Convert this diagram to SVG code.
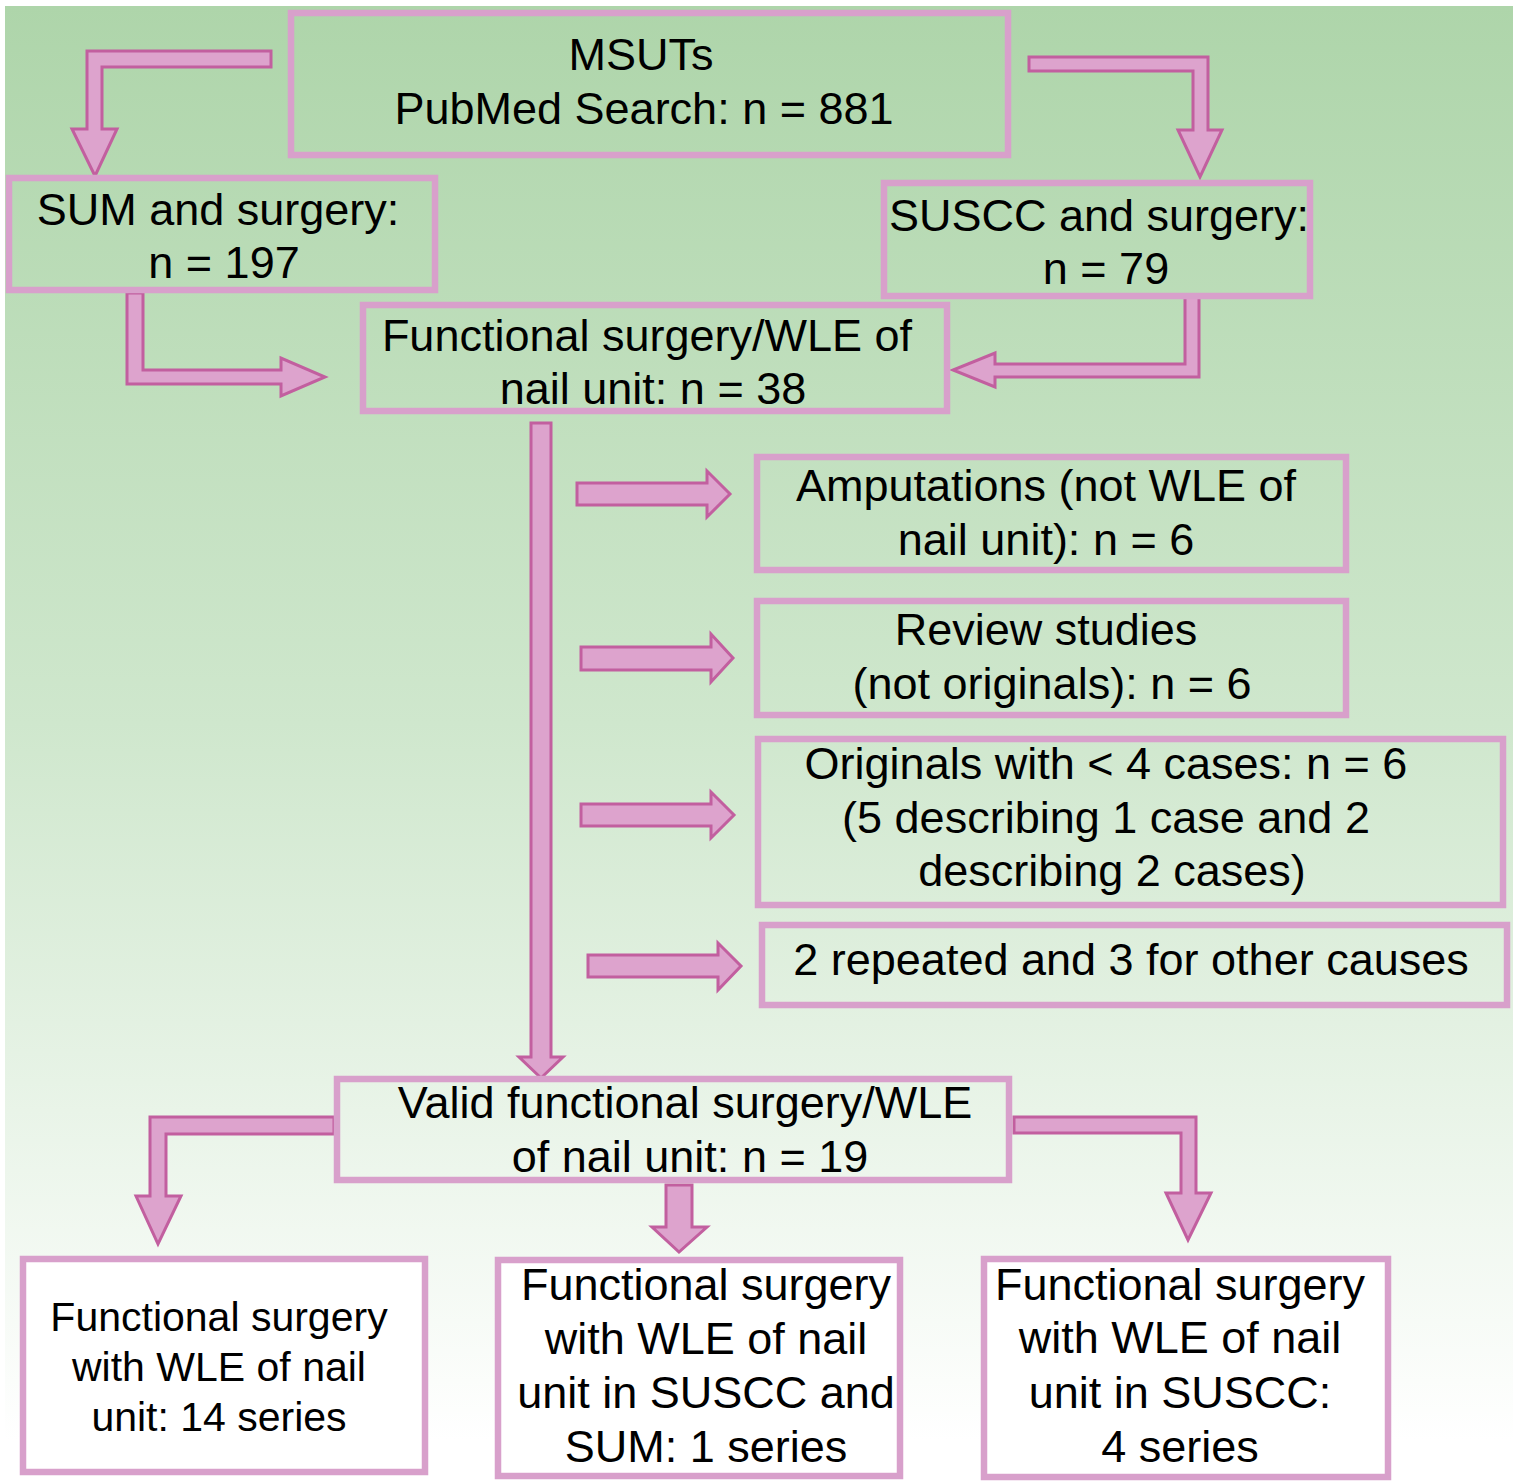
<svg xmlns="http://www.w3.org/2000/svg" width="1521" height="1482" viewBox="0 0 1521 1482">
<defs>
<linearGradient id="bg" gradientUnits="userSpaceOnUse" x1="0" y1="6" x2="0" y2="1440">
<stop offset="0" stop-color="#aed5aa"/>
<stop offset="0.5" stop-color="#cfe7cd"/>
<stop offset="1" stop-color="#ffffff"/>
</linearGradient>
<style>
.box{fill:none;stroke:#d8a0cb;stroke-width:6.5}
.wbox{fill:#ffffff;stroke:#d8a0cb;stroke-width:6.5}
.arr{fill:#dda3cd;stroke:#c25f9f;stroke-width:3;stroke-linejoin:miter}
text{font-family:"Liberation Sans",Arial,sans-serif;font-size:45px;fill:#000;text-anchor:middle}
.sm{font-size:41px}
</style>
</defs>
<rect width="1521" height="1482" fill="#ffffff"/>
<rect x="5" y="6" width="1508" height="1476" fill="url(#bg)"/>

<g id="connectors">
<polygon class="arr" points="271,51 87,51 87,129 72,129 95,176 117,129 102,129 102,67 271,67"/>
<polygon class="arr" points="1029,57 1208,57 1208,130 1222,130 1200,177 1178,130 1193,130 1193,71 1029,71"/>
<polygon class="arr" points="127,293 143,293 143,370 281,370 281,358 325,377 281,396 281,384 127,384"/>
<polygon class="arr" points="1199,296 1185,296 1185,364 995,364 995,353 953,370 995,387 995,377 1199,377"/>
<polygon class="arr" points="531,423 551,423 551,1057 563,1057 541,1078 519,1057 531,1057"/>
<polygon class="arr" points="577,483 707,483 707,471 730,494 707,517 707,505 577,505"/>
<polygon class="arr" points="581,647 711,647 711,634 733,658 711,682 711,670 581,670"/>
<polygon class="arr" points="581,804 711,804 711,792 734,815 711,838 711,826 581,826"/>
<polygon class="arr" points="588,955 718,955 718,943 741,966 718,990 718,977 588,977"/>
<polygon class="arr" points="334,1117 150,1117 150,1196 136,1196 158,1244 181,1196 166,1196 166,1134 334,1134"/>
<polygon class="arr" points="1014,1117 1196,1117 1196,1193 1211,1193 1188,1240 1166,1193 1181,1193 1181,1133 1014,1133"/>
<polygon class="arr" points="666,1185 692,1185 692,1227 707,1227 679,1252 652,1227 666,1227"/>
</g>

<g id="n-msuts">
<rect class="box" x="291" y="13" width="717" height="142"/>
<text x="641" y="70">MSUTs</text>
<text x="644" y="124">PubMed Search: n = 881</text>
</g>
<g id="n-sum">
<rect class="box" x="9" y="178" width="426" height="112"/>
<text x="218" y="225">SUM and surgery:</text>
<text x="224" y="278">n = 197</text>
</g>
<g id="n-suscc">
<rect class="box" x="884" y="183" width="426" height="113"/>
<text x="1099" y="231">SUSCC and surgery:</text>
<text x="1106" y="284">n = 79</text>
</g>
<g id="n-functional">
<rect class="box" x="363" y="305" width="584" height="106"/>
<text x="647" y="351">Functional surgery/WLE of</text>
<text x="653" y="404">nail unit: n = 38</text>
</g>
<g id="n-amputations">
<rect class="box" x="757" y="457" width="589" height="113"/>
<text x="1046" y="501">Amputations (not WLE of</text>
<text x="1046" y="555">nail unit): n = 6</text>
</g>
<g id="n-review">
<rect class="box" x="757" y="601" width="589" height="114"/>
<text x="1046" y="645">Review studies</text>
<text x="1052" y="699">(not originals): n = 6</text>
</g>
<g id="n-originals">
<rect class="box" x="758" y="739" width="745" height="166"/>
<text x="1106" y="779">Originals with &lt; 4 cases: n = 6</text>
<text x="1106" y="833">(5 describing 1 case and 2</text>
<text x="1112" y="886">describing 2 cases)</text>
</g>
<g id="n-repeated">
<rect class="box" x="762" y="925" width="745" height="80"/>
<text x="1131" y="975">2 repeated and 3 for other causes</text>
</g>
<g id="n-valid">
<rect class="box" x="337" y="1079" width="672" height="101"/>
<text x="685" y="1118">Valid functional surgery/WLE</text>
<text x="690" y="1172">of nail unit: n = 19</text>
</g>
<g id="n-left">
<rect class="wbox" x="23" y="1259" width="402" height="213"/>
<text class="sm" x="219" y="1331">Functional surgery</text>
<text class="sm" x="219" y="1381">with WLE of nail</text>
<text class="sm" x="219" y="1431">unit: 14 series</text>
</g>
<g id="n-middle">
<rect class="wbox" x="498" y="1260" width="402" height="216"/>
<text x="706" y="1300">Functional surgery</text>
<text x="706" y="1354">with WLE of nail</text>
<text x="706" y="1408">unit in SUSCC and</text>
<text x="706" y="1462">SUM: 1 series</text>
</g>
<g id="n-right">
<rect class="wbox" x="984" y="1259" width="404" height="218"/>
<text x="1180" y="1300">Functional surgery</text>
<text x="1180" y="1353">with WLE of nail</text>
<text x="1180" y="1408">unit in SUSCC:</text>
<text x="1180" y="1462">4 series</text>
</g>
</svg>
